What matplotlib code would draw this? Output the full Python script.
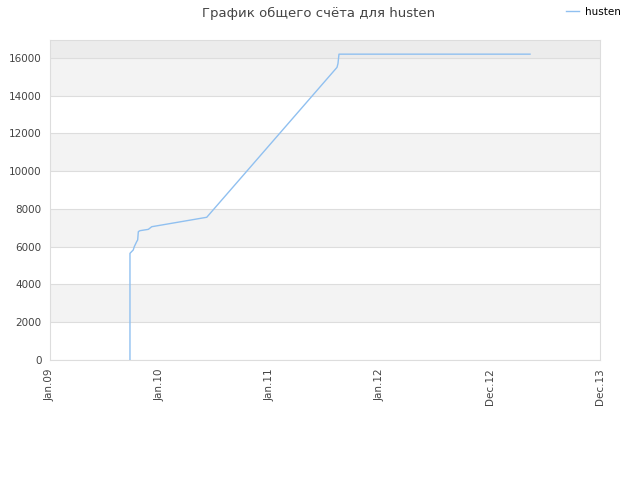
import matplotlib.pyplot as plt

# x positions in "tick units" (0 = Jan.09, 1 = Jan.10, ...)
x_vals = [0.727, 0.727, 0.757, 0.766, 0.788, 0.797, 0.803, 0.818, 0.894, 0.925,
          1.425, 2.609, 2.618, 2.627, 4.364]
scores = [0, 5650, 5830, 6000, 6270, 6360, 6800, 6850, 6920, 7060,
          7560, 15500, 15700, 16200, 16200]
tick_labels = ['Jan.09', 'Jan.10', 'Jan.11', 'Jan.12', 'Dec.12', 'Dec.13']
y_ticks = [0, 2000, 4000, 6000, 8000, 10000, 12000, 14000, 16000]

fig = plt.figure(figsize=(6.4, 4.8), dpi=100)
ax = fig.add_axes([50 / 640, 120 / 480, 550 / 640, 320 / 480])

ymax = 16950
# alternating bands
for i, lo in enumerate(y_ticks):
    hi = lo + 2000 if lo < 16000 else ymax
    if lo == 16000:
        ax.axhspan(lo, hi, color='#ececec', zorder=0, lw=0)
    elif i % 2 == 1:
        ax.axhspan(lo, hi, color='#f3f3f3', zorder=0, lw=0)

ax.plot(x_vals, scores, color='#90c0f0', lw=1.0, label='husten', zorder=3)

ax.set_xlim(0, 5)
ax.set_ylim(0, ymax)
ax.set_xticks(range(len(tick_labels)))
ax.set_xticklabels(tick_labels, rotation=90)
ax.set_yticks(y_ticks)
ax.yaxis.grid(True, color='#dddddd', lw=0.8)
ax.set_axisbelow(True)
ax.tick_params(length=0, labelsize=7.5, colors='#444444', pad=6)
for s in ax.spines.values():
    s.set_color('#dddddd')

fig.text(0.497, 0.972, 'График общего счёта для husten', ha='center', va='center',
         fontsize=9.5, color='#444444')
fig.legend(loc='upper right', bbox_to_anchor=(0.985, 1.005), frameon=False,
           fontsize=7.5, handlelength=1.2, handletextpad=0.6)

fig.savefig('out.png', dpi=100)
